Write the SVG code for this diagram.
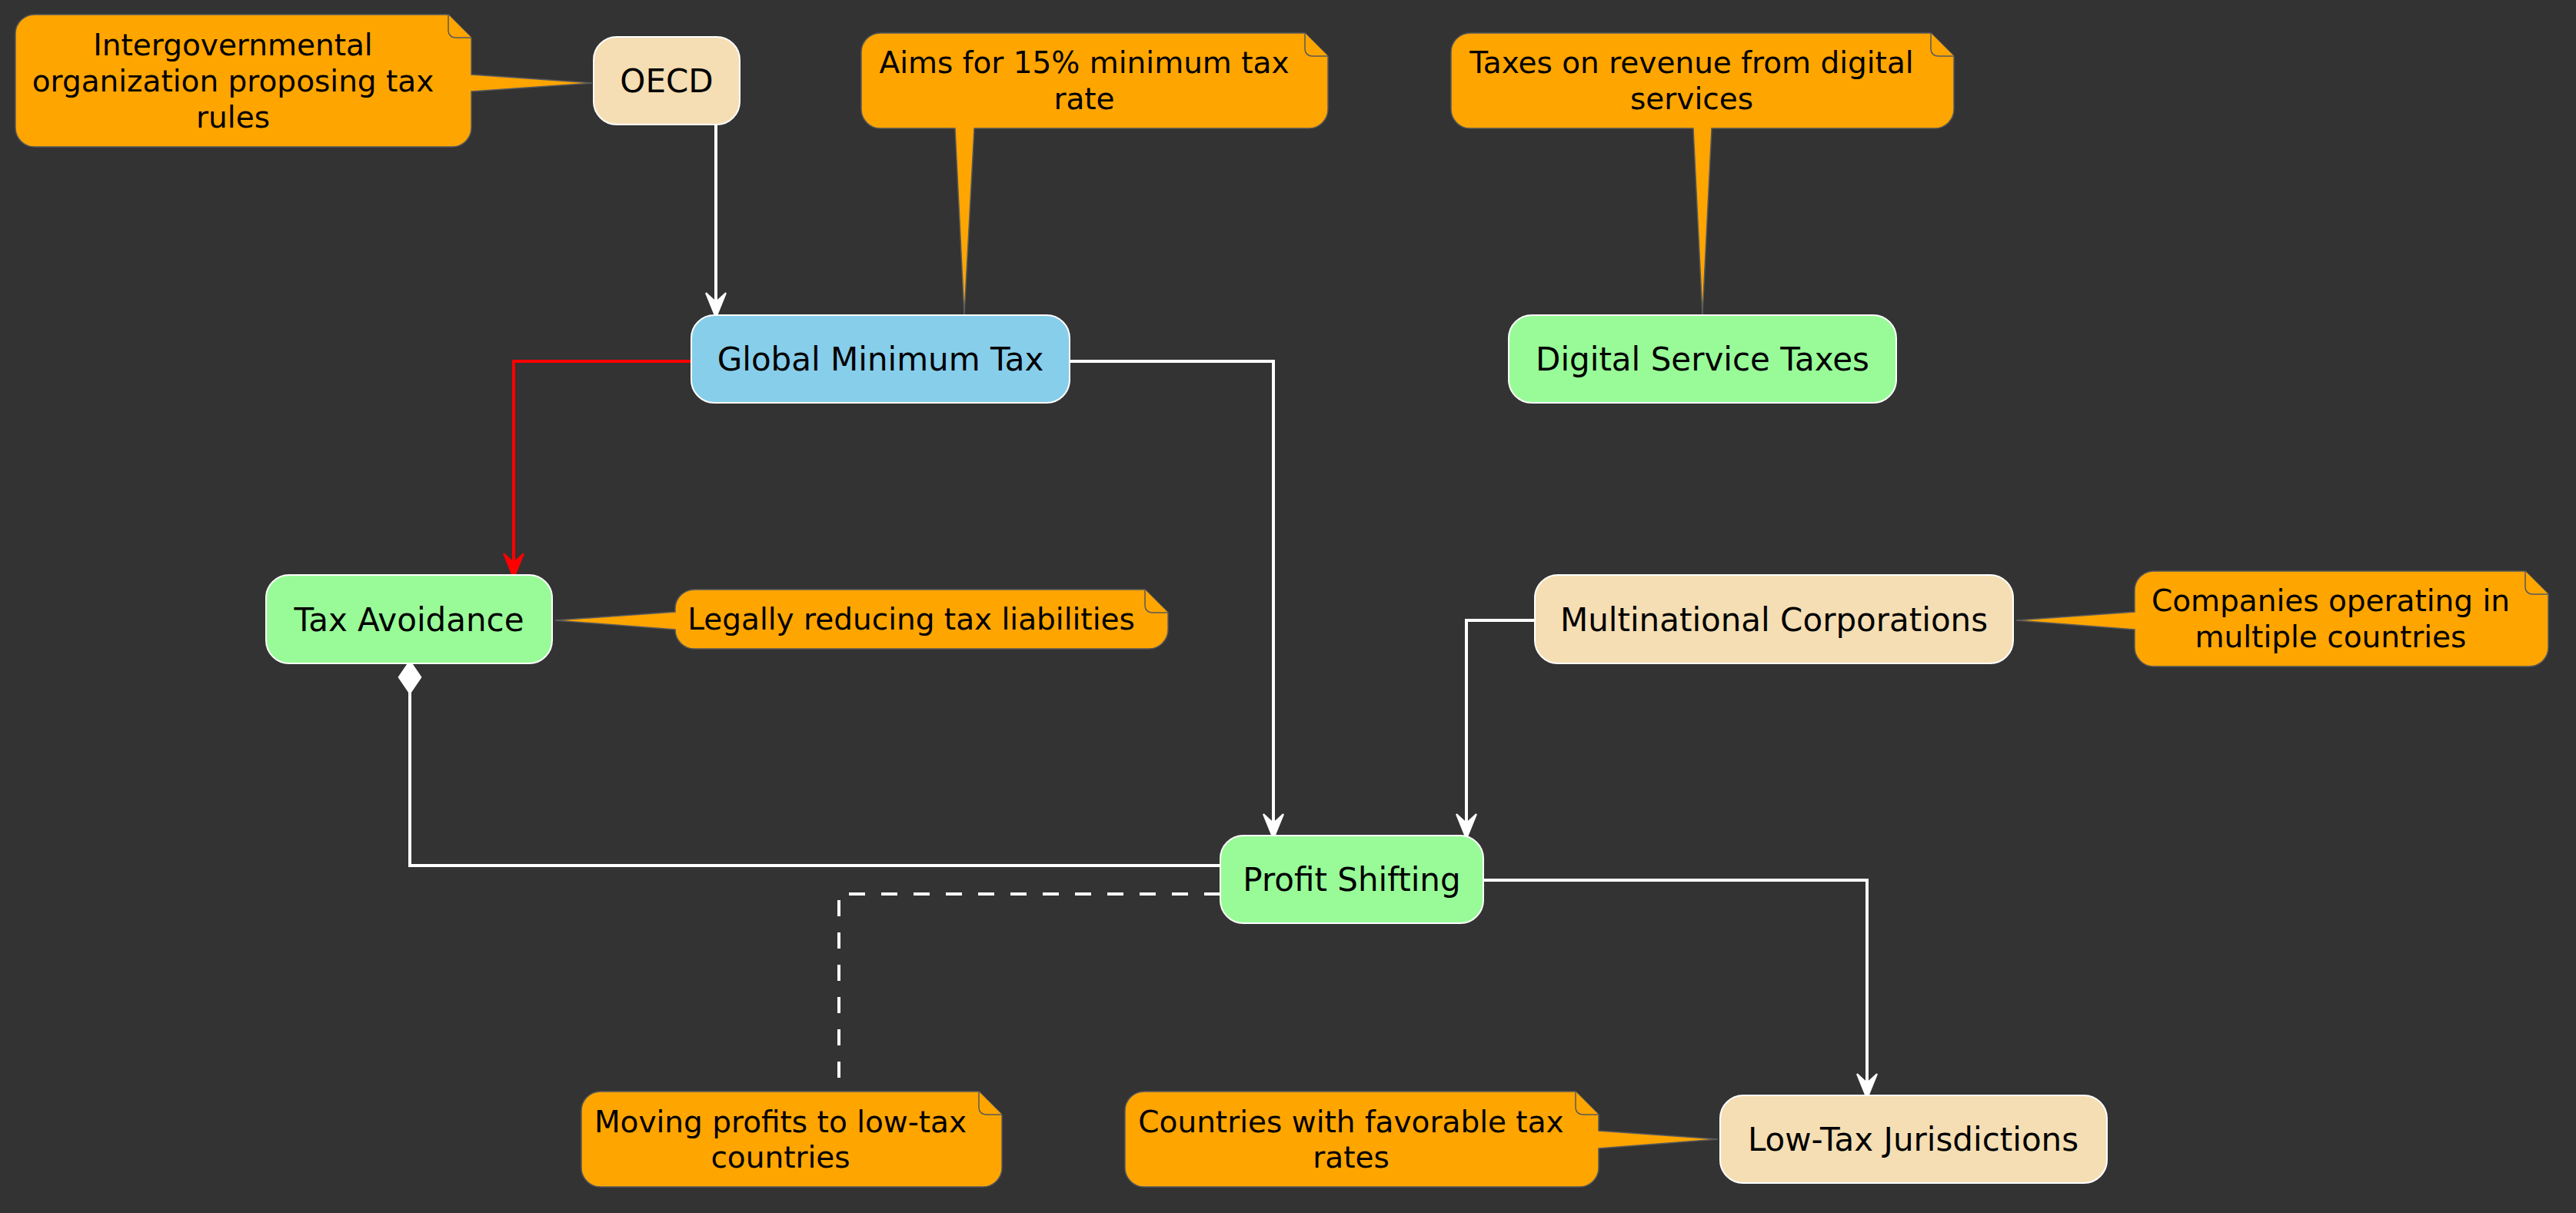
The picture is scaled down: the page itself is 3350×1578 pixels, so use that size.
<svg xmlns="http://www.w3.org/2000/svg" width="3350" height="1578" viewBox="0 0 3350 1578">
<style>
.node rect{stroke:#FFFFFF;stroke-width:2}
.wheat{fill:#F5DEB3}.green{fill:#98FB98}.blue{fill:#87CEEB}
.nt{font-family:"DejaVu Sans","Liberation Sans",sans-serif;font-size:42px;fill:#000;text-anchor:middle}
.note path.body{fill:#FFA500;stroke:#5a5a5a;stroke-width:1.5}
.note path.fold{fill:#FFA500;stroke:#5a5a5a;stroke-width:1.5}
.nn{font-family:"DejaVu Sans","Liberation Sans",sans-serif;font-size:39px;fill:#000;text-anchor:middle}
.edge{fill:none;stroke:#FFFFFF;stroke-width:4}
</style>
<defs>
<marker id="arrW" markerUnits="userSpaceOnUse" markerWidth="40" markerHeight="40" refX="0" refY="0" orient="auto" overflow="visible">
<path d="M0,0 L-32,-13 L-20,0 L-32,13 Z" fill="#FFFFFF" stroke="#FFFFFF" stroke-width="2"/>
</marker>
<marker id="arrR" markerUnits="userSpaceOnUse" markerWidth="40" markerHeight="40" refX="0" refY="0" orient="auto" overflow="visible">
<path d="M0,0 L-32,-13 L-20,0 L-32,13 Z" fill="#FF0000" stroke="#FF0000" stroke-width="2"/>
</marker>
</defs>
<rect x="0" y="0" width="3350" height="1578" fill="#333333"/>

<g id="connectors">
<path class="edge" d="M931,162 L931,413" marker-end="url(#arrW)"/>
<path class="edge" d="M899,470 L668,470 L668,752" style="stroke:#FF0000" marker-end="url(#arrR)"/>
<path class="edge" d="M1391,470 L1656,470 L1656,1091" marker-end="url(#arrW)"/>
<path class="edge" d="M1996,807 L1907,807 L1907,1091" marker-end="url(#arrW)"/>
<path class="edge" d="M1929,1145 L2428,1145 L2428,1429" marker-end="url(#arrW)"/>
<path class="edge" d="M533,900 L533,1126 L1587,1126"/>
<polygon points="533,859 548,881 533,903 518,881" fill="#FFFFFF" stroke="#FFFFFF" stroke-width="1"/>
<path class="edge" d="M1587,1163 L1091,1163 L1091,1420" stroke-width="4.5" stroke-dasharray="21,21"/>
</g>

<g id="note-oecd" class="note">
<path class="body" d="M45,19 L583,19 L613,49 L613,97 L770,108 L613,119 L613,166 A25,25 0 0 1 588,191 L45,191 A25,25 0 0 1 20,166 L20,44 A25,25 0 0 1 45,19 Z"/>
<path class="fold" d="M583,19 L583,40 A9,9 0 0 0 592,49 L613,49"/>
<text class="nn" x="303" y="72">Intergovernmental</text>
<text class="nn" x="303" y="119">organization proposing tax</text>
<text class="nn" x="303" y="166">rules</text>
</g>

<g id="note-gmt" class="note">
<path class="body" d="M1145,43 L1697,43 L1727,73 L1727,142 A25,25 0 0 1 1702,167 L1267,167 L1254,410 L1242,167 L1145,167 A25,25 0 0 1 1120,142 L1120,68 A25,25 0 0 1 1145,43 Z"/>
<path class="fold" d="M1697,43 L1697,64 A9,9 0 0 0 1706,73 L1727,73"/>
<text class="nn" x="1410" y="95">Aims for 15% minimum tax</text>
<text class="nn" x="1410" y="142">rate</text>
</g>

<g id="note-dst" class="note">
<path class="body" d="M1912,43 L2511,43 L2541,73 L2541,142 A25,25 0 0 1 2516,167 L2226,167 L2214,410 L2202,167 L1912,167 A25,25 0 0 1 1887,142 L1887,68 A25,25 0 0 1 1912,43 Z"/>
<path class="fold" d="M2511,43 L2511,64 A9,9 0 0 0 2520,73 L2541,73"/>
<text class="nn" x="2200" y="95">Taxes on revenue from digital</text>
<text class="nn" x="2200" y="142">services</text>
</g>

<g id="note-ta" class="note">
<path class="body" d="M903,767 L1489,767 L1519,797 L1519,819 A25,25 0 0 1 1494,844 L903,844 A25,25 0 0 1 878,819 L722,807 L878,796 L878,792 A25,25 0 0 1 903,767 Z"/>
<path class="fold" d="M1489,767 L1489,788 A9,9 0 0 0 1498,797 L1519,797"/>
<text class="nn" x="1185" y="819">Legally reducing tax liabilities</text>
</g>

<g id="note-mc" class="note">
<path class="body" d="M2801,743 L3284,743 L3314,773 L3314,842 A25,25 0 0 1 3289,867 L2801,867 A25,25 0 0 1 2776,842 L2776,819 L2622,807 L2776,796 L2776,768 A25,25 0 0 1 2801,743 Z"/>
<path class="fold" d="M3284,743 L3284,764 A9,9 0 0 0 3293,773 L3314,773"/>
<text class="nn" x="3031" y="795">Companies operating in</text>
<text class="nn" x="3031" y="842">multiple countries</text>
</g>

<g id="note-ps" class="note">
<path class="body" d="M781,1420 L1273,1420 L1303,1450 L1303,1519 A25,25 0 0 1 1278,1544 L781,1544 A25,25 0 0 1 756,1519 L756,1445 A25,25 0 0 1 781,1420 Z"/>
<path class="fold" d="M1273,1420 L1273,1441 A9,9 0 0 0 1282,1450 L1303,1450"/>
<text class="nn" x="1015" y="1473">Moving profits to low-tax</text>
<text class="nn" x="1015" y="1519">countries</text>
</g>

<g id="note-ltj" class="note">
<path class="body" d="M1488,1420 L2049,1420 L2079,1450 L2079,1471 L2234,1482 L2079,1494 L2079,1519 A25,25 0 0 1 2054,1544 L1488,1544 A25,25 0 0 1 1463,1519 L1463,1445 A25,25 0 0 1 1488,1420 Z"/>
<path class="fold" d="M2049,1420 L2049,1441 A9,9 0 0 0 2058,1450 L2079,1450"/>
<text class="nn" x="1757" y="1473">Countries with favorable tax</text>
<text class="nn" x="1757" y="1519">rates</text>
</g>

<g id="oecd" class="node"><rect class="wheat" x="772" y="48" width="190" height="114" rx="30" ry="30"/><text class="nt" x="867" y="120">OECD</text></g>
<g id="global-minimum-tax" class="node"><rect class="blue" x="899" y="410" width="492" height="114" rx="30" ry="30"/><text class="nt" x="1145" y="482">Global Minimum Tax</text></g>
<g id="digital-service-taxes" class="node"><rect class="green" x="1962" y="410" width="504" height="114" rx="30" ry="30"/><text class="nt" x="2214" y="482">Digital Service Taxes</text></g>
<g id="tax-avoidance" class="node"><rect class="green" x="346" y="748" width="372" height="115" rx="30" ry="30"/><text class="nt" x="532" y="821">Tax Avoidance</text></g>
<g id="multinational-corporations" class="node"><rect class="wheat" x="1996" y="748" width="622" height="115" rx="30" ry="30"/><text class="nt" x="2307" y="821">Multinational Corporations</text></g>
<g id="profit-shifting" class="node"><rect class="green" x="1587" y="1087" width="342" height="114" rx="30" ry="30"/><text class="nt" x="1758" y="1159">Profit Shifting</text></g>
<g id="low-tax-jurisdictions" class="node"><rect class="wheat" x="2237" y="1425" width="503" height="114" rx="30" ry="30"/><text class="nt" x="2488" y="1497">Low-Tax Jurisdictions</text></g>
</svg>
